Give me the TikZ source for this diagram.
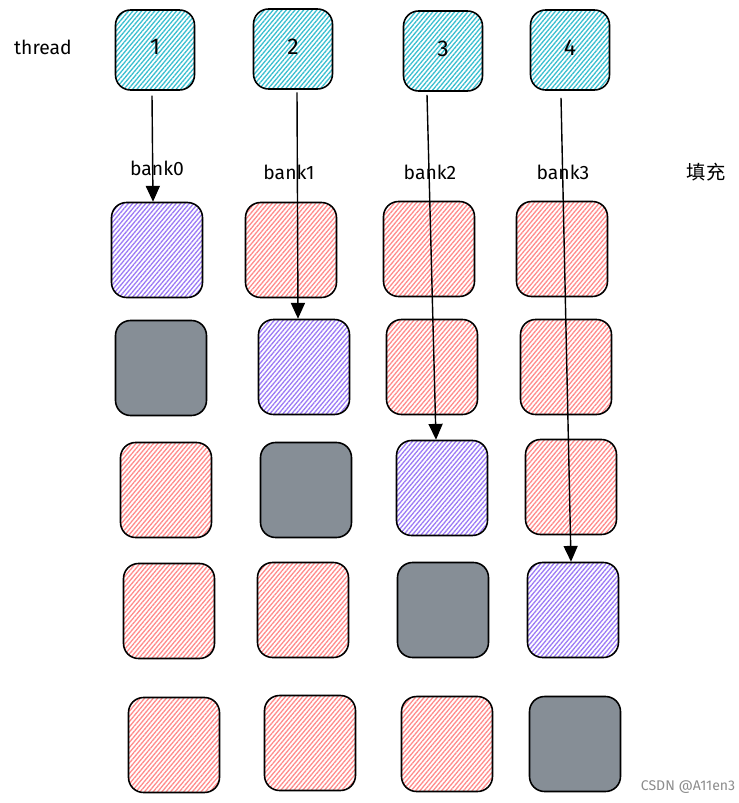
\documentclass[tikz,border=0pt]{standalone}
\usepackage{fontspec}
\setmainfont{Fira Sans}
\newfontfamily\cjk{Noto Sans CJK SC}
\usetikzlibrary{arrows.meta,patterns.meta}
\definecolor{hatchcyan}{HTML}{3BBFD0}
\definecolor{hatchpurple}{HTML}{9C7BF5}
\definecolor{hatchred}{HTML}{FF8C8C}
\definecolor{cellgray}{HTML}{868E96}
\begin{document}
\begin{tikzpicture}[x=0.02cm,y=-0.02cm,
    box/.style={draw=black,line width=0.9pt,rounded corners=0.3cm,inner sep=0pt},
    hatch/.style={pattern={Lines[angle=50,distance=1.9pt,line width=0.75pt]},pattern color=#1},
    threadbox/.style={box,hatch=hatchcyan,minimum width=1.58cm,minimum height=1.6cm,font=\fontsize{13}{15}\selectfont},
    cell/.style={box,minimum width=1.82cm,minimum height=1.9cm},
    hitcell/.style={cell,hatch=hatchpurple},
    padcell/.style={cell,hatch=hatchred},
    fillcell/.style={cell,fill=cellgray},
    lbl/.style={font=\fontsize{11}{13}\selectfont},
    link/.style={-{Triangle[length=9pt,width=8pt]},line width=0.8pt}]
  \useasboundingbox (0,0) rectangle (738,803);

  % threads
  \node[threadbox] (t1) at (155,50) {\raisebox{3pt}{1}};
  \node[threadbox] (t2) at (293,49) {\raisebox{3pt}{2}};
  \node[threadbox] (t3) at (443,51) {\raisebox{3pt}{3}};
  \node[threadbox] (t4) at (570,50) {\raisebox{3pt}{4}};
  \node[lbl] (thread) at (43,47) {thread};

  % bank labels
  \node[lbl] (b0) at (157,168) {bank0};
  \node[lbl] (b1) at (289,172) {bank1};
  \node[lbl] (b2) at (430,172) {bank2};
  \node[lbl] (b3) at (563,172) {bank3};
  \node[lbl,font=\cjk\fontsize{11}{13}\selectfont] (pad) at (706,172) {填充};

  % shared memory cells
  \foreach \name/\x/\y/\kind in {
      c11/157/250/hitcell, c12/291/250/padcell, c13/429/249/padcell, c14/562/249/padcell,
      c21/161/368/fillcell, c22/304/367/hitcell, c23/432/367/padcell, c24/566/367/padcell,
      c31/166/490/padcell, c32/306/490/fillcell, c33/442/488/hitcell, c34/571/487/padcell,
      c41/169/611/padcell, c42/303/610/padcell, c43/443/610/fillcell, c44/573/610/hitcell,
      c51/174/745/padcell, c52/310/743/padcell, c53/447/744/padcell, c54/575/744/fillcell} {
    \node[\kind] (\name) at (\x,\y) {};
  }

  % thread -> bank
  \draw[link] ([xshift=-0.06cm,yshift=-0.1cm]t1.south) -- ([xshift=-0.08cm]c11.north);
  \draw[link] ([xshift=0.08cm,yshift=-0.05cm]t2.south) -- ([xshift=-0.12cm]c22.north);
  \draw[link] ([xshift=-0.32cm,yshift=-0.06cm]t3.south) -- ([xshift=-0.12cm]c33.north);
  \draw[link] ([xshift=-0.18cm,yshift=-0.14cm]t4.south) -- ([xshift=-0.04cm]c44.north);

  \node[text=black!45,font=\fontsize{8}{10}\selectfont] (mark) at (688,787) {CSDN @A11en3};
\end{tikzpicture}
\end{document}
